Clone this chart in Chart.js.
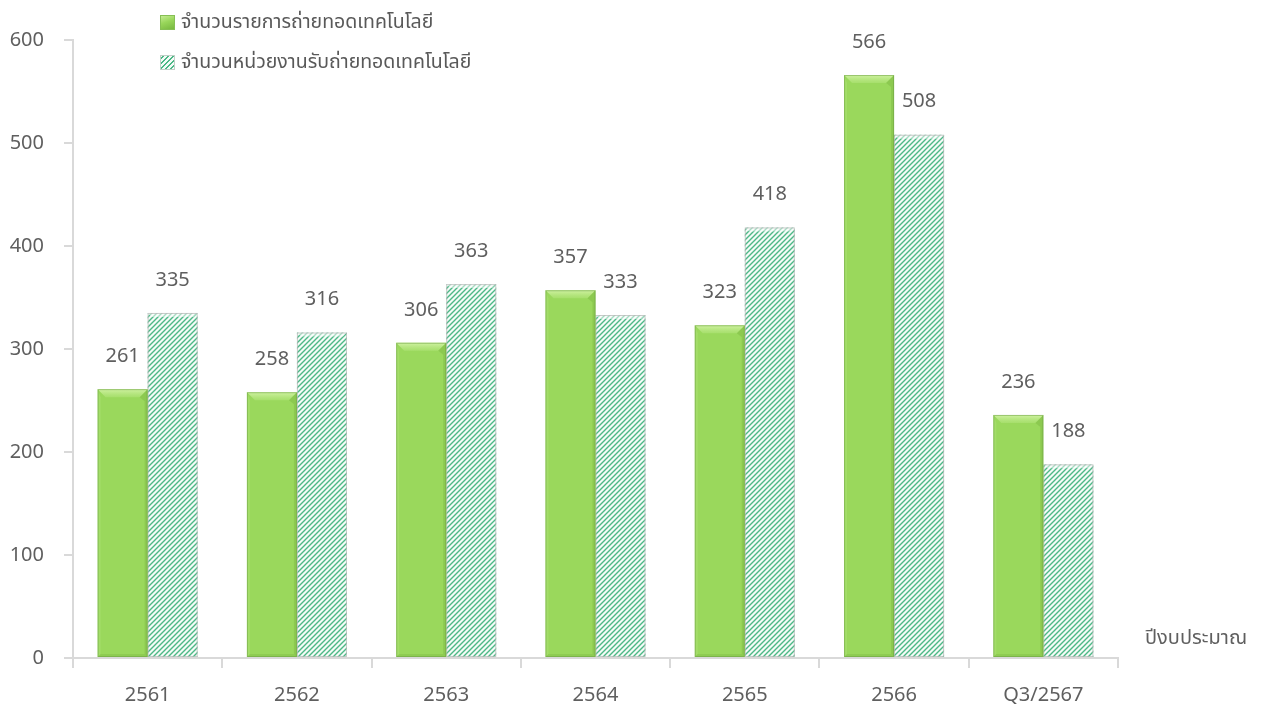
<!DOCTYPE html>
<html lang="th">
<head>
<meta charset="utf-8">
<title>การถ่ายทอดเทคโนโลยี</title>
<script src="https://cdn.jsdelivr.net/npm/chart.js@4.4.1/dist/chart.umd.min.js"></script>
<style>
  html, body { margin: 0; padding: 0; background: #ffffff; }
  #wrap { position: relative; width: 1265px; height: 709px; }
  #chart { position: absolute; left: 0; top: 0; }
  #legend { position: absolute; left: 160px; top: 2px; font-family: "Noto Sans", "Noto Sans Thai", Tahoma, sans-serif; font-size: 19.5px; color: #595959; }
  .item { display: flex; align-items: center; height: 40px; }
  .swatch { width: 15px; height: 15px; margin-right: 6px; box-sizing: border-box; }
</style>
</head>
<body>
<div id="wrap">
  <canvas id="chart" width="1265" height="709"></canvas>
  <div id="legend"></div>
</div>
<script>
// Budget years and the two counts per year
const categories = ['2561', '2562', '2563', '2564', '2565', '2566', 'Q3/2567'];
const transferItems = [261, 258, 306, 357, 323, 566, 236];
const receivingUnits = [335, 316, 363, 333, 418, 508, 188];
const seriesNames = ['จำนวนรายการถ่ายทอดเทคโนโลยี', 'จำนวนหน่วยงานรับถ่ายทอดเทคโนโลยี'];
const xAxisTitle = 'ปีงบประมาณ';
const yTicks = [0, 100, 200, 300, 400, 500, 600];

const FONT = '"Noto Sans", "Noto Sans Thai", Tahoma, sans-serif';
const TEXT = '#5f5f5f';
const GREEN = '#9ad85c';

// Diagonal stripe fill for the second series
function stripePattern() {
  const c = document.createElement('canvas');
  c.width = 5; c.height = 5;
  const g = c.getContext('2d');
  g.fillStyle = '#f4fbf7';
  g.fillRect(0, 0, 5, 5);
  g.strokeStyle = '#4cb886';
  g.lineWidth = 1.4;
  g.beginPath();
  g.moveTo(-1, 6); g.lineTo(6, -1);
  g.moveTo(-1, 1); g.lineTo(1, -1);
  g.moveTo(4, 6); g.lineTo(6, 4);
  g.stroke();
  return g.createPattern(c, 'repeat');
}
const ctx0 = document.getElementById('chart').getContext('2d');
const hatch = stripePattern();

// Legend built from the series names
const legendEl = document.getElementById('legend');
seriesNames.forEach((name, i) => {
  const row = document.createElement('div');
  row.className = 'item';
  const sw = document.createElement('div');
  sw.className = 'swatch';
  if (i === 0) {
    sw.style.background = 'linear-gradient(160deg, #c4ec92 0%, #98d65a 45%, #78b840 100%)';
    sw.style.border = '1px solid #86bf55';
  } else {
    sw.style.background = 'repeating-linear-gradient(-45deg, #f4fbf7 0px, #f4fbf7 2px, #4cb886 2px, #4cb886 3.5px)';
    sw.style.border = '1px solid #c3cfc8';
  }
  const tx = document.createElement('span');
  tx.textContent = name;
  row.appendChild(sw); row.appendChild(tx);
  legendEl.appendChild(row);
});

// Soft bevel shading on top of each bar, using the bar geometry from Chart.js
const bevelPlugin = {
  id: 'bevel',
  afterDatasetDraw(chart, args) {
    const ctx = chart.ctx;
    const meta = args.meta;
    const b = 8;
    meta.data.forEach(bar => {
      const x0 = bar.x - bar.width / 2, x1 = bar.x + bar.width / 2;
      const y0 = bar.y, y1 = bar.base;
      ctx.save();
      if (args.index === 0) {
        // top face
        const tg = ctx.createLinearGradient(0, y0, 0, y0 + b);
        tg.addColorStop(0, 'rgba(214,245,170,0.9)');
        tg.addColorStop(1, 'rgba(180,230,125,0.5)');
        ctx.fillStyle = tg;
        ctx.beginPath();
        ctx.moveTo(x0, y0); ctx.lineTo(x1, y0); ctx.lineTo(x1 - b, y0 + b); ctx.lineTo(x0 + b, y0 + b); ctx.closePath(); ctx.fill();
        // left face
        ctx.fillStyle = 'rgba(190,235,140,0.25)';
        ctx.beginPath();
        ctx.moveTo(x0, y0); ctx.lineTo(x0 + 3, y0 + b); ctx.lineTo(x0 + 3, y1 - 3); ctx.lineTo(x0, y1); ctx.closePath(); ctx.fill();
        // right face
        ctx.fillStyle = 'rgba(90,150,40,0.22)';
        ctx.beginPath();
        ctx.moveTo(x1, y0); ctx.lineTo(x1 - b, y0 + b); ctx.lineTo(x1 - 3, y0 + b + 4); ctx.lineTo(x1 - 3, y1 - 3); ctx.lineTo(x1, y1); ctx.closePath(); ctx.fill();
        // bottom face
        ctx.fillStyle = 'rgba(90,150,40,0.18)';
        ctx.beginPath();
        ctx.moveTo(x0, y1); ctx.lineTo(x1, y1); ctx.lineTo(x1 - 3, y1 - 3); ctx.lineTo(x0 + 3, y1 - 3); ctx.closePath(); ctx.fill();
        ctx.strokeStyle = 'rgba(110,160,70,0.55)';
        ctx.lineWidth = 1;
        ctx.strokeRect(x0 + 0.5, y0 + 0.5, x1 - x0 - 1, y1 - y0 - 1);
      } else {
        ctx.fillStyle = 'rgba(255,255,255,0.5)';
        ctx.beginPath();
        ctx.moveTo(x0, y0); ctx.lineTo(x1, y0); ctx.lineTo(x1 - 4, y0 + 4); ctx.lineTo(x0 + 4, y0 + 4); ctx.closePath(); ctx.fill();
        ctx.strokeStyle = 'rgba(185,185,185,0.75)';
        ctx.lineWidth = 1;
        ctx.strokeRect(x0 + 0.5, y0 + 0.5, x1 - x0 - 1, y1 - y0 - 1);
      }
      ctx.restore();
    });
  }
};

// Value labels above bars and the x-axis title to the right of the plot
const labelPlugin = {
  id: 'valueLabels',
  afterDatasetsDraw(chart) {
    const ctx = chart.ctx;
    ctx.save();
    ctx.font = '20px ' + FONT;
    ctx.fillStyle = TEXT;
    ctx.textAlign = 'center';
    ctx.textBaseline = 'middle';
    chart.data.datasets.forEach((ds, di) => {
      chart.getDatasetMeta(di).data.forEach((bar, i) => {
        ctx.fillText(String(ds.data[i]), bar.x, bar.y - 33);
      });
    });
    ctx.textAlign = 'left';
    ctx.font = '20px ' + FONT;
    ctx.fillText(xAxisTitle, chart.chartArea.right + 27, chart.chartArea.bottom - 20);
    ctx.restore();
  }
};

new Chart(ctx0, {
  type: 'bar',
  data: {
    labels: categories,
    datasets: [
      { label: seriesNames[0], data: transferItems, backgroundColor: GREEN, borderWidth: 0 },
      { label: seriesNames[1], data: receivingUnits, backgroundColor: hatch, borderWidth: 0 }
    ]
  },
  options: {
    responsive: false,
    animation: false,
    layout: { padding: { left: 0, right: 147, top: 40, bottom: 0 } },
    datasets: { bar: { categoryPercentage: 0.67, barPercentage: 1.0 } },
    plugins: { legend: { display: false }, tooltip: { enabled: false } },
    scales: {
      x: {
        grid: { display: true, offset: true, drawOnChartArea: false, drawTicks: true, tickLength: 10, color: '#d9d9d9', lineWidth: 2 },
        border: { display: true, color: '#d9d9d9', width: 2 },
        ticks: { color: TEXT, font: { family: FONT, size: 20 }, padding: 15 },
        afterFit(scale) { scale.height = 51; }
      },
      y: {
        min: 0, max: 600,
        afterBuildTicks(scale) { scale.ticks = yTicks.map(v => ({ value: v })); },
        grid: { display: true, drawOnChartArea: false, drawTicks: true, tickLength: 9, color: '#d9d9d9', lineWidth: 2 },
        border: { display: true, color: '#d9d9d9', width: 2 },
        ticks: { color: TEXT, font: { family: FONT, size: 20 }, padding: 20 },
        afterFit(scale) { scale.width = 73; }
      }
    }
  },
  plugins: [bevelPlugin, labelPlugin]
});
</script>
</body>
</html>
